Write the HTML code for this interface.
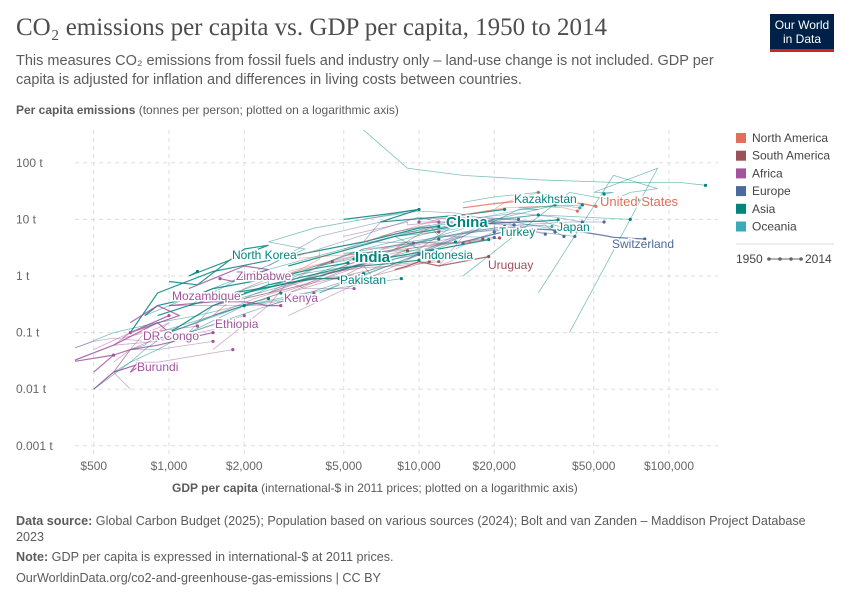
<!DOCTYPE html>
<html><head><meta charset="utf-8">
<style>
body{margin:0;background:#fff;font-family:"Liberation Sans",sans-serif;}
#wrap{position:relative;width:850px;height:600px;overflow:hidden;}
.t{position:absolute;margin:0;}
</style></head>
<body>
<div id="wrap">
<div class="t" style="left:16px;top:14px;font-family:'Liberation Serif',serif;font-size:25px;color:#4d4d4d;">CO₂ emissions per capita vs. GDP per capita, 1950 to 2014</div>
<div class="t" style="left:16px;top:52px;width:720px;font-size:14.5px;line-height:19px;color:#5b5b5b;">This measures CO₂ emissions from fossil fuels and industry only – land-use change is not included. GDP per capita is adjusted for inflation and differences in living costs between countries.</div>
<div class="t" style="left:770px;top:14px;width:64px;height:38px;background:#002147;color:#fff;font-size:12px;line-height:14px;text-align:center;padding-top:4px;box-sizing:border-box;border-bottom:3px solid #ce261e;">Our World<br>in Data</div>
<div class="t" style="left:16px;top:103px;font-size:12px;color:#5b5b5b;"><b>Per capita emissions</b> (tonnes per person; plotted on a logarithmic axis)</div>
<div class="t" style="left:172px;top:481px;font-size:12px;color:#5b5b5b;"><b>GDP per capita</b> (international-$ in 2011 prices; plotted on a logarithmic axis)</div>
<div class="t" style="left:16px;top:513px;width:800px;font-size:12.6px;line-height:16px;color:#5b5b5b;"><b>Data source:</b> Global Carbon Budget (2025); Population based on various sources (2024); Bolt and van Zanden – Maddison Project Database 2023<div style="height:4px"></div><b>Note:</b> GDP per capita is expressed in international-$ at 2011 prices.<div style="height:5px"></div>OurWorldinData.org/co2-and-greenhouse-gas-emissions | CC BY</div>
<svg id="chart" width="850" height="600" style="position:absolute;left:0;top:0"></svg>
</div>
<script>
const xTicks=[500,1000,2000,5000,10000,20000,50000,100000];
const xTickLabels=["$500","$1,000","$2,000","$5,000","$10,000","$20,000","$50,000","$100,000"];
const yTicks=[0.001,0.01,0.1,1,10,100];
const yTickLabels=["0.001 t","0.01 t","0.1 t","1 t","10 t","100 t"];
const regions=["North America","South America","Africa","Europe","Asia","Oceania"];
const regionColors=["#e56e5a","#9a5157","#a2559c","#4c6a9c","#00847e","#38aaba"];
const countryNames=["United States","China","India","Japan","Switzerland","Kazakhstan","Turkey","Indonesia","Pakistan","North Korea","Uruguay","Kenya","Zimbabwe","Mozambique","Ethiopia","DR Congo","Burundi","Qatar","Kuwait","Germany","France","Poland","Spain","Italy","UK","Brazil","Argentina","Chile","Mexico","Canada","Australia","New Zealand","Egypt","Nigeria","South Africa","Ghana","Tanzania","Thailand","Vietnam","Bangladesh","Iran","Malaysia","Peru","Colombia","Morocco","Sudan","UAE","Saudi Arabia","Mongolia","Myanmar","Cambodia","Niger","Mali","Chad","Uganda","Malawi","Madagascar","Algeria","Libya","Gabon","Czechia","Hungary","Romania","Greece","Norway","Sweden","Venezuela","Bolivia","Ecuador","Cuba","Trinidad","Oman","Bahrain","Iraq","Sri Lanka","Nepal","Philippines","South Korea","Singapore","Brunei"];
const countryRegion=[0,4,4,4,3,4,4,4,4,4,1,2,2,2,2,2,2,4,4,3,3,3,3,3,3,1,1,1,0,0,5,5,2,2,2,2,2,4,4,4,4,4,1,1,2,2,4,4,4,4,4,2,2,2,2,2,2,2,2,2,3,3,3,3,3,3,1,1,1,0,0,4,4,4,4,4,4,4,4,4];
const gdpSeries=[
[15000,20000,25000,30000,40000,45000,51000],
[700,900,1500,3000,6000,10000,12000],
[800,900,1200,1500,2500,4000,5200],
[3000,8000,15000,25000,33000,36000],
[15000,25000,35000,45000,55000,60000,80000],
[5000,8000,10000,7000,15000,22000],
[2000,4000,7000,12000,17000,19000],
[1000,1500,2500,5000,8000,10000],
[900,1200,1800,2800,3800,4800],
[1000,1300,2000,2500,1200,1300],
[8000,9000,10000,12000,16000,19000],
[1000,1500,2000,2500,2800],
[1200,2000,2500,1800,1600],
[700,900,1100,700,1000],
[500,600,700,900,1500],
[1000,900,600,400,600],
[500,600,800,700,750],
[6000,9000,15000,30000,60000,110000,140000],
[40000,90000,50000,60000,55000],
[8000,15000,25000,35000,45000],
[7000,14000,24000,33000,38000],
[4000,8000,10000,12000,24000],
[4000,9000,17000,25000,32000],
[5000,12000,22000,32000,35000],
[10000,15000,22000,32000,38000],
[2000,4000,8000,11000,15000],
[7000,9000,12000,11000,18000],
[4000,5000,6000,12000,21000],
[3000,6000,10000,12000,16000],
[15000,22000,30000,38000,43000],
[12000,18000,26000,35000,44000],
[14000,18000,22000,27000,34000],
[1500,2500,4000,7000,10000],
[1500,2500,3000,3500,5500],
[5000,7000,9000,9000,12000],
[1200,1500,1800,2500,3800],
[600,700,900,1200,2000],
[1200,2500,5000,9000,14000],
[800,1000,1500,3000,5500],
[700,800,900,1500,2800],
[4000,10000,8000,12000,17000],
[2000,4000,8000,14000,22000],
[3000,5000,6000,6500,11000],
[2500,4000,6000,8000,12000],
[1500,2200,3000,4500,6500],
[1000,1300,1500,2000,3500],
[30000,60000,90000,70000,60000],
[8000,20000,30000,25000,45000],
[1200,2000,3500,2500,3800,10000],
[400,450,600,900,1300,2500],
[500,700,900,1200,2000,3000],
[600,700,800,650,700],
[500,600,700,900,1500],
[700,600,800,900,1800],
[500,700,600,900,1600],
[400,500,600,800,1000],
[900,1000,900,800,1300],
[2500,4000,6000,7000,9500],
[3000,20000,15000,25000,10000],
[3000,8000,15000,12000,16000],
[6000,10000,14000,17000,25000],
[5000,8000,11000,12000,20000],
[2500,4000,7000,6000,15000],
[4000,8000,15000,20000,20000],
[9000,15000,25000,40000,55000],
[10000,15000,22000,30000,42000],
[8000,11000,10000,9000,12000],
[1500,1800,2000,2500,4500],
[2000,3500,5000,6000,9000],
[3000,4000,4000,3000,6000],
[6000,12000,20000,22000,30000],
[4000,15000,25000,30000,35000],
[15000,20000,30000,35000,40000],
[3000,8000,12000,5000,12000],
[1000,1500,2000,3500,8500],
[600,700,800,1000,2000],
[1200,1800,2500,2500,6000],
[1000,2000,5000,12000,30000],
[3000,6000,15000,30000,70000],
[15000,40000,50000,70000,75000]];
const co2Series=[
[16,19,21,20,20,19,17],
[0.1,0.5,1.2,2.2,4,7,7.5],
[0.2,0.3,0.4,0.6,0.9,1.4,1.7],
[1.5,5,8,9,9.5,9.8],
[4,7,6.5,6,5.2,4.8,4.5],
[10,13,15,9,12,15],
[0.5,1,2,3,4,4.4],
[0.1,0.3,0.7,1.4,1.7,1.9],
[0.2,0.3,0.5,0.7,0.9,0.9],
[0.8,0.7,3,3.5,1,1.2],
[1.3,1.5,1.8,1.5,1.9,2.2],
[0.3,0.35,0.35,0.3,0.3],
[0.6,1.5,1.3,0.8,0.9],
[0.15,0.3,0.2,0.1,0.2],
[0.02,0.04,0.05,0.06,0.1],
[0.1,0.15,0.06,0.03,0.04],
[0.01,0.02,0.03,0.02,0.03],
[380,80,60,50,45,45,40],
[0.1,80,30,30,28],
[6,10,13,11,9],
[5,8,9,7,5],
[3,8,11,9,8],
[1.5,4,6,7,5.5],
[1.5,5,7,8,6],
[10,11,10,9,7],
[0.4,0.8,1.6,1.8,2.5],
[1.8,3,3.8,3.5,4.5],
[1.5,2.3,2.5,3.5,4.7],
[1.2,2.5,4,3.8,3.9],
[12,16,17,16,14],
[7,11,15,18,16],
[3,5,7,8,7.5],
[0.3,0.5,1,1.8,2.4],
[0.05,0.3,0.8,0.6,0.6],
[5,7,9,8,9],
[0.1,0.3,0.3,0.3,0.5],
[0.03,0.05,0.08,0.1,0.2],
[0.1,0.3,0.8,2,4],
[0.2,0.3,0.3,0.7,2],
[0.05,0.06,0.1,0.2,0.5],
[1,3,5,6,8],
[0.4,1.5,3,5.5,7.5],
[0.5,1,1.5,1,1.8],
[0.5,1.1,1.4,1.5,1.8],
[0.2,0.4,0.6,1,1.8],
[0.1,0.15,0.2,0.3,0.4],
[0.5,60,35,30,22],
[3,10,15,16,18],
[0.3,1,3,4,7,15],
[0.05,0.06,0.1,0.15,0.2,0.4],
[0.01,0.03,0.05,0.1,0.3,0.4],
[0.02,0.05,0.1,0.08,0.1],
[0.01,0.02,0.05,0.05,0.07],
[0.01,0.02,0.03,0.03,0.05],
[0.05,0.1,0.06,0.07,0.12],
[0.05,0.07,0.08,0.07,0.08],
[0.1,0.15,0.12,0.1,0.13],
[0.5,1.5,3,3.2,3.8],
[0.2,10,8,9,9],
[0.5,3,5,1.5,2.5],
[10,14,13,11,10],
[3,6,8,5,4.8],
[1.5,5,9,4,3.8],
[0.5,2,5,9,6],
[2,6,8,9,9],
[3,10,9,6,5],
[3,7,6,6,6],
[0.2,0.4,0.6,0.9,1.8],
[0.3,0.7,1.5,2,2.8],
[1,2,3,2,2.5],
[4,10,15,20,30],
[0.5,5,15,15,18],
[20,25,30,25,23],
[1,2,3,2.5,4.5],
[0.1,0.2,0.3,0.5,0.9],
[0.02,0.03,0.05,0.1,0.3],
[0.3,0.5,0.8,0.7,1.1],
[0.3,1,3,8,12],
[1,3,8,12,10],
[1,30,25,20,22]];
const labelNames=["China","India","United States","Kazakhstan","Turkey","Japan","Switzerland","Indonesia","Uruguay","Pakistan","North Korea","Zimbabwe","Kenya","Mozambique","Ethiopia","DR Congo","Burundi"];

const svg=document.getElementById('chart');
const NS='http://www.w3.org/2000/svg';
const X0=75,X1=718,Y0=130,Y1=455;
function xs(v){return 169+250*Math.log10(v/1000);}
function ys(v){return 276-56.6*Math.log10(v);}
function mk(tag,attrs,text){const e=document.createElementNS(NS,tag);for(const k in attrs)e.setAttribute(k,attrs[k]);if(text!==undefined)e.textContent=text;svg.appendChild(e);return e;}
const defs=mk('clipPath',{id:'clip'});
const cr=document.createElementNS(NS,'rect');cr.setAttribute('x',X0);cr.setAttribute('y',Y0);cr.setAttribute('width',X1-X0);cr.setAttribute('height',Y1-Y0);defs.appendChild(cr);

xTicks.forEach((v,i)=>{
 const l=mk('line',{x1:xs(v),x2:xs(v),y1:Y0,y2:Y1,stroke:'#ddd','stroke-dasharray':'4,4'});
 
 
 const t=mk('text',{x:xs(v),y:470,'text-anchor':'middle','font-size':12,fill:'#666','font-family':'Liberation Sans'},xTickLabels[i]);
 
 
});
yTicks.forEach((v,i)=>{
 const l=mk('line',{x1:X0,x2:X1,y1:ys(v),y2:ys(v),stroke:'#ddd','stroke-dasharray':'4,4'});
 
 
 const t=mk('text',{x:16,y:ys(v)+4,'font-size':12,fill:'#666','font-family':'Liberation Sans'},yTickLabels[i]);
 
 
});
const g=mk('g',{'clip-path':'url(#clip)'});
countryNames.forEach((n,i)=>{
 const pts=gdpSeries[i].map((x,j)=>xs(x).toFixed(1)+','+ys(co2Series[i][j]).toFixed(1)).join(' ');
 const labeled=labelNames.indexOf(n)>=0;
 const p=document.createElementNS(NS,'polyline');
 p.setAttribute('points',pts);p.setAttribute('fill','none');
 p.setAttribute('stroke',regionColors[countryRegion[i]]);
 p.setAttribute('stroke-width',labeled?1.2:0.8);
 p.setAttribute('stroke-opacity',labeled?0.85:0.5);
 
 
 g.appendChild(p);
 const last=gdpSeries[i].length-1;
 const c=document.createElementNS(NS,'circle');
 c.setAttribute('cx',xs(gdpSeries[i][last]));c.setAttribute('cy',ys(co2Series[i][last]));c.setAttribute('r',1.6);
 c.setAttribute('fill',regionColors[countryRegion[i]]);
 
 
 g.appendChild(c);
});
const labelPos={"China":[446,227,15],"India":[355,262,15],"United States":[600,206,13],"Kazakhstan":[514,203,12],"Turkey":[499,236,12],"Japan":[557,231,12],"Switzerland":[612,248,12],"Indonesia":[421,259,12],"Uruguay":[488,269,12],"Pakistan":[340,284,12],"North Korea":[232,259,12],"Zimbabwe":[236,280,12],"Kenya":[284,302,12],"Mozambique":[172,300,12],"Ethiopia":[215,328,12],"DR Congo":[143,340,12],"Burundi":[137,371,12]};
labelNames.forEach(n=>{
 const i=countryNames.indexOf(n);const p=labelPos[n];
 const t=mk('text',{x:p[0],y:p[1],'font-size':p[2],fill:regionColors[countryRegion[i]],'font-family':'Liberation Sans',stroke:'#fff','stroke-width':3,'paint-order':'stroke','font-weight':p[2]>13?'bold':'normal'},n);
 
 
});
regions.forEach((r,i)=>{
 const y=138+17.7*i;
 const s=mk('rect',{x:736,y:y-5,width:10,height:10,fill:regionColors[i]});
 
 
 const t=mk('text',{x:752,y:y+4,'font-size':12,fill:'#444','font-family':'Liberation Sans'},r);
 
 
});
const sep=mk('line',{x1:736,x2:834,y1:244,y2:244,stroke:'#ddd'});


const t1=mk('text',{x:736,y:263,'font-size':12,fill:'#444','font-family':'Liberation Sans'},'1950');


const tl=mk('line',{x1:767,x2:803,y1:259,y2:259,stroke:'#666'});


[769,780,791,801].forEach(x=>{const c=mk('circle',{cx:x,cy:259,r:1.8,fill:'#666'});
 
 });
const t2=mk('text',{x:805,y:263,'font-size':12,fill:'#444','font-family':'Liberation Sans'},'2014');


</script>
</body></html>
